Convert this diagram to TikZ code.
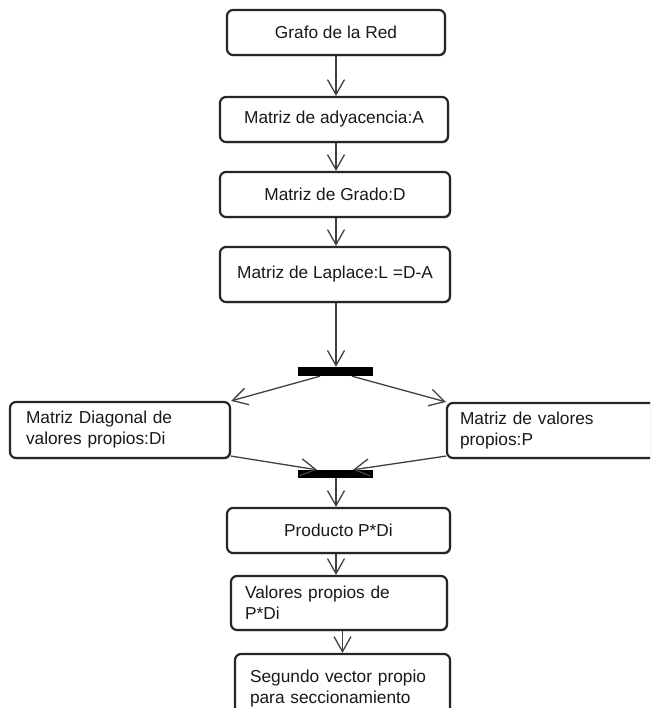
\documentclass[tikz,border=0pt]{standalone}
\usepackage{fontspec}
\setmainfont{Liberation Sans}
\usetikzlibrary{arrows.meta,shadows}
\begin{document}
\begin{tikzpicture}[x=1pt,y=-1pt,
  box/.style={draw=black!85, line width=2.2pt, rounded corners=6pt, fill=white,
    inner sep=0pt, text=black!90, font=\fontsize{17.3}{21}\selectfont,
    drop shadow={shadow xshift=1pt, shadow yshift=-1.2pt, fill=black!45, opacity=1}},
  lbox/.style={box, align=left},
  bar/.style={fill=black, draw=none, inner sep=0pt, minimum width=75pt},
  flow/.style={draw=black!75, line width=1.3pt, -{Straight Barb[length=15pt,width=17pt]}}
]
\useasboundingbox (0,0) rectangle (650,708);
\clip (0,0) rectangle (650,708);
\fill[white] (0,0) rectangle (650,708);

\node[box, minimum width=218pt, minimum height=45pt] (b1) at (336,32.5) {Grafo de la Red};
\node[box, minimum width=228pt, minimum height=45pt] (b2) at (334,119.5) {Matriz de adyacencia:A};
\node[box, minimum width=230pt, minimum height=45pt] (b3) at (335,194.5) {Matriz de Grado:D};
\node[box, minimum width=230pt, minimum height=55pt] (b4) at (335,274.5) {Matriz de Laplace:L =D-A};

\node[bar, minimum height=9pt] (bar1) at (335.5,371.5) {};

\node[lbox, minimum width=220pt, minimum height=56pt, text width=188pt, inner xsep=16pt] (diag) at (120,430)
  {Matriz Diagonal de\\valores propios:Di};
\node[lbox, minimum width=213pt, minimum height=55pt, text width=187pt, inner xsep=13pt] (pm) at (553.5,430.5)
  {Matriz de valores\\propios:P};

\node[bar, minimum height=8pt] (bar2) at (335.5,474) {};

\node[box, minimum width=223pt, minimum height=45pt] (prod) at (338.5,530.5) {Producto P*Di};
\node[lbox, minimum width=216pt, minimum height=54pt, text width=188pt, inner xsep=14pt] (val) at (339,603)
  {Valores propios de\\P*Di};
\node[lbox, minimum width=215pt, minimum height=70pt, text width=185pt, inner xsep=15pt] (seg) at (342.5,689)
  {Segundo vector propio\\para seccionamiento};

\draw[flow] (b1.south) -- (b1.south |- b2.north);
\draw[flow] (b1.south |- b2.south) -- (b1.south |- b3.north);
\draw[flow] (b1.south |- b3.south) -- (b1.south |- b4.north);
\draw[flow] (b1.south |- b4.south) -- (b1.south |- bar1.north);
\draw[flow] ([xshift=-15.5pt]bar1.south) -- (diag.north east);
\draw[flow] ([xshift=16.5pt]bar1.south) -- (pm.north west);
\draw[flow] ([yshift=3pt]diag.south east) -- ([xshift=-18.5pt]bar2.north);
\draw[flow] ([yshift=3pt]pm.south west) -- ([xshift=17.5pt]bar2.north);
\draw[flow] (b1.south |- bar2.south) -- (b1.south |- prod.north);
\draw[flow] (b1.south |- prod.south) -- (b1.south |- val.north);
\draw[flow] (seg.north |- val.south) -- (seg.north);
\end{tikzpicture}
\end{document}
